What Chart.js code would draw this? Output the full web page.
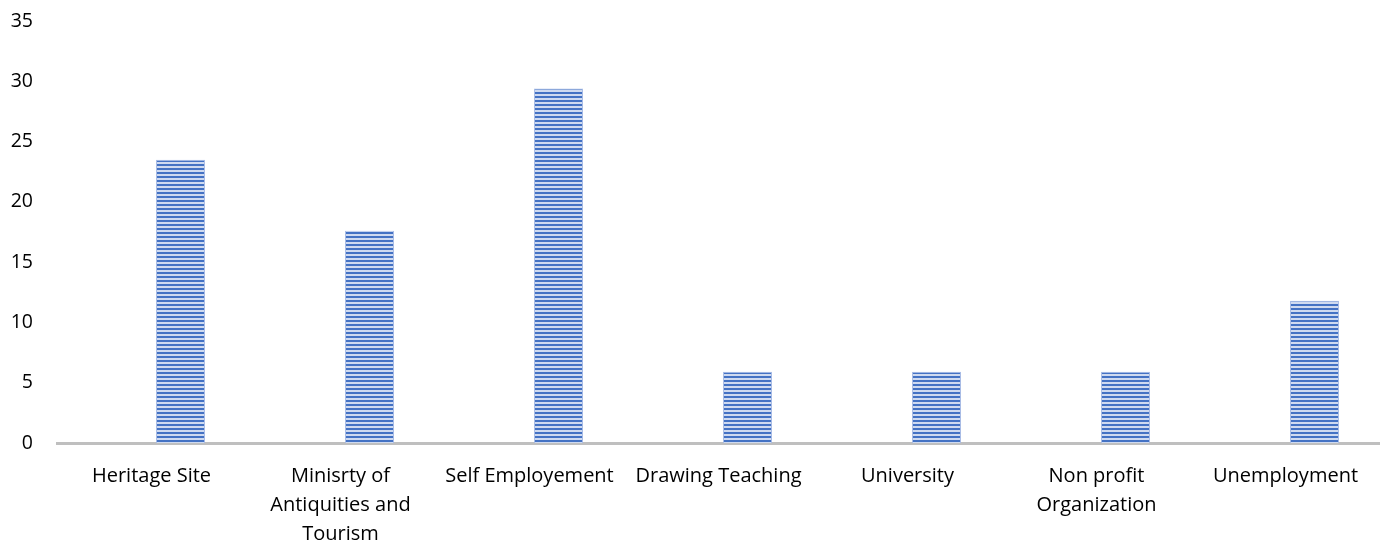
<!DOCTYPE html>
<html>
<head>
<meta charset="utf-8">
<script src="https://cdn.jsdelivr.net/npm/chart.js@4.4.1/dist/chart.umd.min.js"></script>
<style>
  html, body { margin: 0; padding: 0; background: #fff; }
  #wrap { width: 1380px; height: 542px; position: relative; }
</style>
</head>
<body>
<div id="wrap"><canvas id="c"></canvas></div>
<script>
// Employment sector of graduates (%)
var categories = [
  'Heritage Site',
  ['Minisrty of', 'Antiquities and', 'Tourism'],
  'Self Employement',
  'Drawing Teaching',
  'University',
  ['Non profit', 'Organization'],
  'Unemployment'
];
var shares = [23.5, 17.6, 29.4, 5.9, 5.9, 5.9, 11.8];
// second column of the original table was left empty
var emptySeries = [null, null, null, null, null, null, null];
var yTicks = [0, 5, 10, 15, 20, 25, 30, 35];

// horizontal stripe fill for the bars
function stripeFill() {
  var p = document.createElement('canvas');
  p.width = 4; p.height = 4;
  var g = p.getContext('2d');
  g.fillStyle = '#cfdaf0';
  g.fillRect(0, 0, 4, 4);
  g.fillStyle = '#4472c4';
  g.fillRect(0, 0, 4, 2);
  return g.createPattern(p, 'repeat');
}

var FAMILY = '"Open Sans", Lato, sans-serif';

new Chart(document.getElementById('c'), {
  type: 'bar',
  data: {
    labels: categories,
    datasets: [
      { label: 'blank', data: emptySeries, backgroundColor: 'rgba(0,0,0,0)' },
      {
        label: 'Share',
        data: shares,
        backgroundColor: stripeFill(),
        borderColor: '#a9bde6',
        borderWidth: 1,
        borderSkipped: 'bottom'
      }
    ]
  },
  options: {
    responsive: true,
    maintainAspectRatio: false,
    animation: false,
    categoryPercentage: 0.614,
    barPercentage: 0.845,
    layout: { padding: { top: 21, right: 0, bottom: 0, left: 0 } },
    plugins: { legend: { display: false }, tooltip: { enabled: false } },
    scales: {
      y: {
        min: 0,
        max: 35,
        afterBuildTicks: function (axis) {
          axis.ticks = yTicks.map(function (v) { return { value: v }; });
        },
        afterFit: function (axis) {
          axis.width = 57;
          axis.paddingTop = 0;
          axis.paddingBottom = 0;
        },
        grid: { display: false, drawTicks: false },
        border: { display: false },
        ticks: { color: '#000', font: { family: FAMILY, size: 19.5 }, padding: 24 }
      },
      x: {
        afterFit: function (axis) { axis.height = 99; },
        grid: { display: false, drawTicks: false },
        border: { display: true, color: '#bfbfbf', width: 3 },
        ticks: {
          color: '#000',
          font: { family: FAMILY, size: 20, lineHeight: 1.45 },
          padding: 19,
          maxRotation: 0,
          autoSkip: false
        }
      }
    }
  }
});
</script>
</body>
</html>
